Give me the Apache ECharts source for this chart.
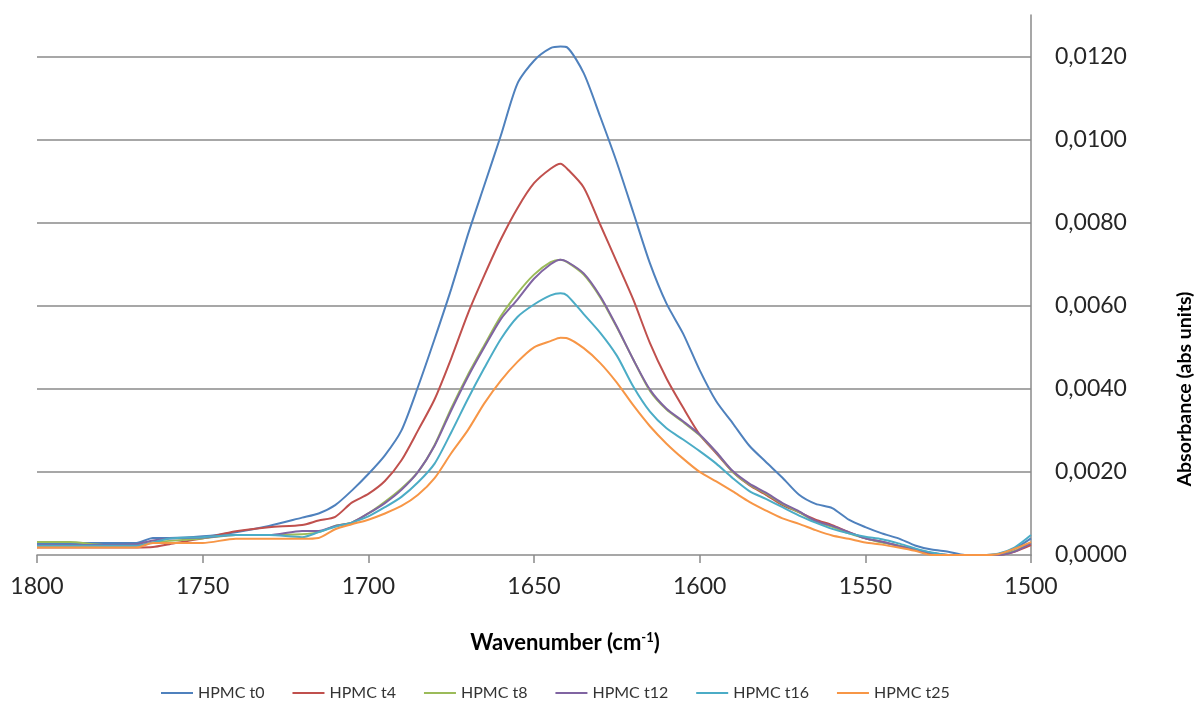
<!DOCTYPE html>
<html>
<head>
<meta charset="utf-8">
<script src="https://cdn.jsdelivr.net/npm/echarts@6/dist/echarts.min.js"></script>
<style>
html,body{margin:0;padding:0;background:#fff;overflow:hidden;}
#chart{width:1198px;height:704px;}
</style>
</head>
<body>
<div id="chart"></div>
<script>
// Wavenumbers (cm-1)
const wavenumbers = [1800,1790,1780,1770,1765,1760,1750,1740,1730,1720,1715,1710,1705,1700,1695,1690,1685,1680,1675,1670,1665,1660,1655,1650,1645,1642,1640,1635,1630,1625,1620,1615,1610,1605,1600,1595,1590,1585,1580,1575,1570,1565,1560,1555,1550,1545,1540,1535,1530,1525,1520,1515,1510,1505,1500];
// Absorbance values, in units of 1e-4 abs
const UNIT = 1e-4;
const t0  = [2.9,2.9,2.9,2.9,4.1,4.1,4.5,5.5,7.0,9.0,10.0,12.0,15.5,19.5,24.0,30.0,40.5,52,64,77,89,101,113.5,119,122,122.4,122.2,116,105.5,94.5,82.4,70.2,60.5,53.3,44.5,37,31.7,26.3,22.4,18.6,14.5,12.3,11.3,8.5,6.7,5.2,4.0,2.3,1.3,0.8,0,0,0.2,1.5,4.0];
const t4  = [1.8,1.8,1.8,1.8,1.9,2.6,4.0,5.7,6.7,7.2,8.3,9.2,12.6,14.7,17.8,22.8,30,37.5,47.3,58,67.3,76,83.5,89.5,93,94.2,93,88.5,79.5,70.5,61.4,51,42.5,35.5,29,24.5,20,16.8,14.5,12,10.3,8.5,7.2,5.5,4.0,3.2,2.2,1.2,0.3,0,0,0,0,0.8,2.4];
const t8  = [3.1,3.1,2.4,2.4,3.0,3.4,4.0,4.8,4.8,5.0,5.5,7.0,7.8,10.0,12.8,16.0,20.0,26.5,35.3,43.3,50.5,57.5,63,67.5,70.5,71.1,70.5,67.5,62,54.8,47,39.5,35.0,32,28.8,24.7,20,17,14.8,12.3,10.3,8,6.8,5.2,4.0,3.0,2.3,1.4,0.5,0,0,0,0,1.0,3.0];
const t12 = [2.4,2.4,2.4,2.6,3.5,4.0,4.2,4.8,4.8,5.8,5.8,7.0,7.8,10.0,12.5,15.7,20,26.3,34.8,42.8,50,56.8,61.5,66.5,70,71.1,70.6,67.8,62.3,55,47,39.8,35.2,32.2,29,24.8,20.2,17.2,15,12.5,10.5,8.2,7,5.5,4.0,3.2,2.2,1.3,0.5,0,0,0,0,0.8,2.8];
const t16 = [2.2,2.2,2.2,2.2,3.0,4.0,4.3,4.8,4.8,4.3,5.5,6.8,7.8,9.3,11.5,14,17.5,22,29.5,37.5,45,52,57.3,60.3,62.5,63,62.5,58,53.5,48,40.5,34.5,30.5,27.8,25,22,18.5,15.4,13.5,11.5,9.5,7.8,6.3,5.2,4.4,3.8,2.8,1.6,0.6,0,0,0,0.3,1.8,4.8];
const t25 = [1.8,1.8,1.8,1.8,2.9,2.9,2.9,3.9,3.9,3.9,4.1,6.2,7.4,8.5,10,11.8,14.5,18.5,24.5,30,36.5,42,46.5,50,51.5,52.3,52.2,49.8,46.2,41.5,36,31,26.8,23.2,20,17.7,15.3,12.8,10.7,8.8,7.5,6,4.7,3.9,3.0,2.5,1.8,1.0,0,0,0,0,0.2,1.5,3.1];

const seriesNames = ['HPMC t0','HPMC t4','HPMC t8','HPMC t12','HPMC t16','HPMC t25'];
const seriesValues = [t0,t4,t8,t12,t16,t25];
const colors = ['#4F81BD','#C0504D','#9BBB59','#8064A2','#4BACC6','#F79646'];

const xTicks = {min:1500, max:1800, interval:50};
const yTicks = {min:0, max:0.013, interval:0.002};

const chart = echarts.init(document.getElementById('chart'));
const font = 'Lato, "Open Sans", sans-serif';

chart.setOption({
  animation:false,
  color: colors,
  grid:{left:37, right:167, top:15, bottom:149, containLabel:false, outerBoundsMode:'none'},
  legend:{
    data: seriesNames,
    top: 680, left:156,
    itemWidth:32, itemHeight:10, itemGap:28,
    icon:'path://M0,4 L32,4 L32,6 L0,6 Z',
    textStyle:{fontFamily:font, fontSize:16, color:'#333'}
  },
  xAxis:{
    type:'value', inverse:true,
    min:xTicks.min, max:xTicks.max, interval:xTicks.interval,
    axisLine:{show:true, lineStyle:{color:'#8a8a8a', width:1.5}},
    axisTick:{show:true, inside:false, length:8, lineStyle:{color:'#8a8a8a', width:1.5}},
    axisLabel:{fontFamily:font, fontSize:23, color:'#262626', margin:20,
      formatter:function(v){ return String(v); }},
    splitLine:{show:false},
    name:'{a|Wavenumber (cm}{s|-1}{a|)}',
    nameLocation:'middle', nameGap:76,
    nameTextStyle:{
      padding:[0,0,0,62],
      rich:{
        a:{fontFamily:font, fontSize:22, fontWeight:'bold', color:'#000'},
        s:{fontFamily:font, fontSize:13, fontWeight:'bold', color:'#000', verticalAlign:'top', padding:[0,0,10,0]}
      }
    }
  },
  yAxis:{
    type:'value', position:'right',
    min:yTicks.min, max:yTicks.max, interval:yTicks.interval,
    axisLine:{show:true, lineStyle:{color:'#8a8a8a', width:1.5}},
    axisTick:{show:false},
    axisLabel:{
      fontFamily:font, fontSize:23, color:'#262626', margin:24,
      showMaxLabel:false,
      formatter:function(v){
        const k = Math.round(v/yTicks.interval);
        if (Math.abs(v - k*yTicks.interval) > 1e-9) return '';
        return v.toFixed(4).replace('.', ',');
      }
    },
    splitLine:{show:true, showMinLine:false, showMaxLine:false, lineStyle:{color:'#8a8a8a', width:1.5}},
    name:'Absorbance (abs units)',
    nameLocation:'middle', nameGap:144, nameRotate:90,
    nameTextStyle:{fontFamily:font, fontSize:19.5, fontWeight:'bold', color:'#000', padding:[0,208,0,0]}
  },
  series: seriesNames.map(function(name, i){
    return {
      name:name, type:'line', showSymbol:false, symbol:'none',
      smooth:0.25,
      lineStyle:{width:2, color:colors[i]},
      itemStyle:{color:colors[i]},
      data: wavenumbers.map(function(w, j){ return [w, +(seriesValues[i][j]*UNIT).toFixed(6)]; })
    };
  })
});
</script>
</body>
</html>
